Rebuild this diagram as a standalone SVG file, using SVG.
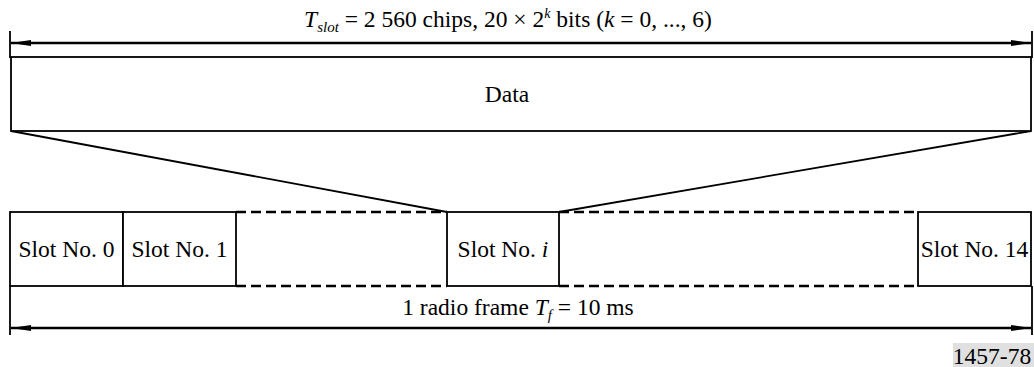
<svg xmlns="http://www.w3.org/2000/svg" width="1034" height="367" viewBox="0 0 1034 367">
<style>
text{font-family:"Liberation Serif","Times New Roman",serif;font-size:23.5px;fill:#000}
.box{fill:#fff;stroke:#000;stroke-width:1.8}
.ln{stroke:#000;stroke-width:1.8;fill:none}
.dash{stroke:#000;stroke-width:2.4;stroke-dasharray:10 5;fill:none}
.arr{stroke:#000;stroke-width:2.4;fill:none;marker-start:url(#ah);marker-end:url(#ah)}
</style>
<defs>
<marker id="ah" viewBox="0 0 20 6" refX="20" refY="3" markerWidth="20" markerHeight="6" markerUnits="userSpaceOnUse" orient="auto-start-reverse">
<path d="M0,0 L20,3 L0,6 z" fill="#000"/>
</marker>
</defs>
<g id="connectors">
<line class="ln" x1="10" y1="31" x2="10" y2="58"/>
<line class="ln" x1="1032" y1="31" x2="1032" y2="58"/>
<line class="arr" x1="11" y1="43" x2="1031" y2="43"/>
<line class="ln" x1="11" y1="131" x2="447" y2="212"/>
<line class="ln" x1="1031" y1="131" x2="559" y2="212"/>
<line class="dash" x1="236" y1="212" x2="447" y2="212"/>
<line class="dash" x1="236" y1="286" x2="447" y2="286"/>
<line class="dash" x1="559" y1="212" x2="918" y2="212"/>
<line class="dash" x1="559" y1="286" x2="918" y2="286"/>
<line class="ln" x1="10" y1="286" x2="10" y2="335"/>
<line class="ln" x1="1032" y1="286" x2="1032" y2="335"/>
<line class="arr" x1="11" y1="328" x2="1031" y2="328"/>
</g>
<text x="508" y="27" text-anchor="middle"><tspan font-style="italic">T</tspan><tspan font-style="italic" font-size="15" dy="5">slot</tspan><tspan dy="-5"> = 2 560 chips, 20 × 2</tspan><tspan font-style="italic" font-size="14" dy="-9">k</tspan><tspan dy="9"> bits (</tspan><tspan font-style="italic">k</tspan><tspan> = 0, ..., 6)</tspan></text>
<g id="data">
<rect class="box" x="11" y="57" width="1020" height="74"/>
<text x="507" y="102" text-anchor="middle">Data</text>
</g>
<g id="slot0">
<rect class="box" x="10" y="212" width="113" height="74"/>
<text x="66.5" y="257" text-anchor="middle">Slot No. 0</text>
</g>
<g id="slot1">
<rect class="box" x="123" y="212" width="113" height="74"/>
<text x="179.5" y="257" text-anchor="middle">Slot No. 1</text>
</g>
<g id="sloti">
<rect class="box" x="447" y="212" width="112" height="74"/>
<text x="503" y="257" text-anchor="middle">Slot No. <tspan font-style="italic">i</tspan></text>
</g>
<g id="slot14">
<rect class="box" x="918" y="212" width="113" height="74"/>
<text x="974.5" y="257" text-anchor="middle">Slot No. 14</text>
</g>
<text x="518" y="315" text-anchor="middle">1 radio frame <tspan font-style="italic">T</tspan><tspan font-style="italic" font-size="15" dy="5">f</tspan><tspan dy="-5"> = 10 ms</tspan></text>
<rect x="953" y="343" width="81" height="24" fill="#e0e0e0"/>
<text x="992" y="364" text-anchor="middle">1457-78</text>
</svg>
